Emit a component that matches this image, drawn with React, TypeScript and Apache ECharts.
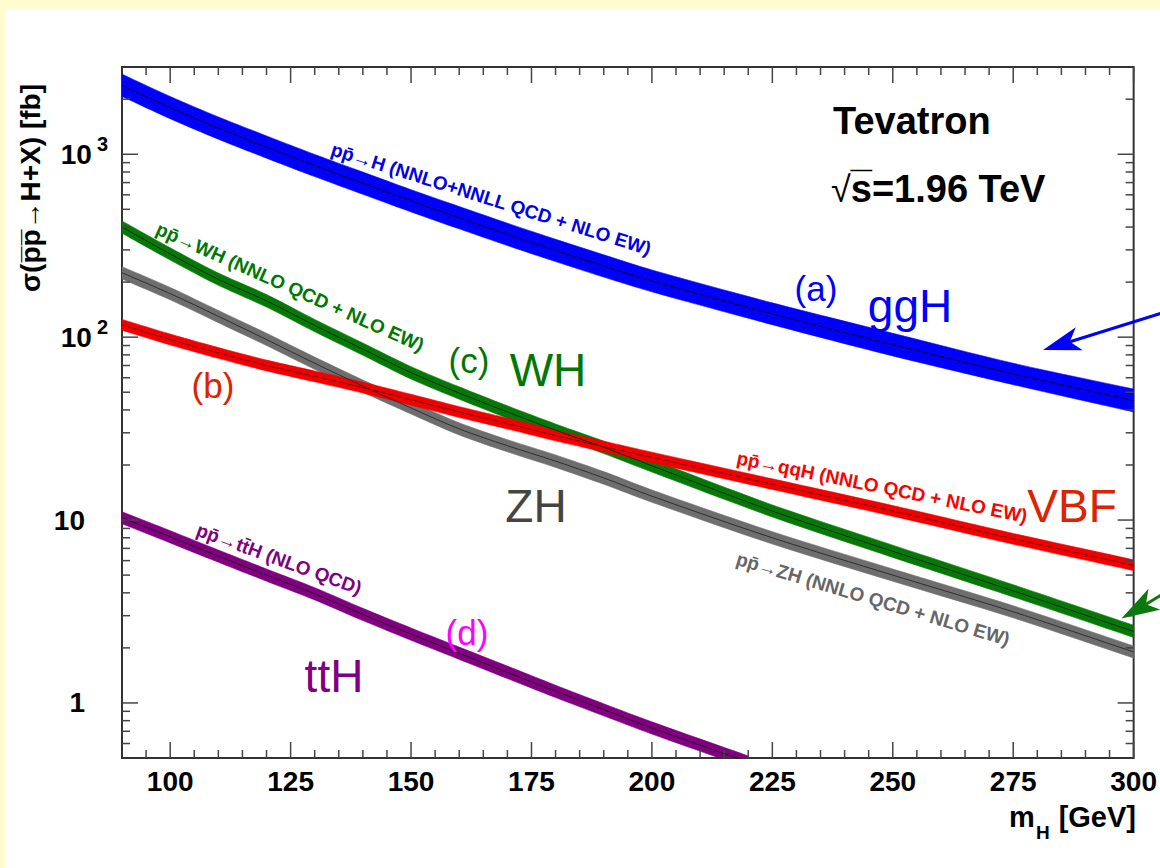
import React, { useEffect, useRef } from "react";
import * as echarts from "echarts";

// ---- data (fb) ----
const masses = [90, 100, 110, 120, 130, 140, 150, 160, 170, 180, 190, 200, 225, 250, 275, 300];

const ggH = [2380, 1800, 1390, 1095, 868, 695, 557, 450, 365, 298, 245, 203, 134, 91, 63, 45];
const ggHLow = [2070, 1565, 1209, 952, 755, 604, 484, 391, 317, 259, 213, 177, 117, 79, 55, 39];
const ggHHigh = [2740, 2070, 1600, 1260, 998, 799, 640, 518, 420, 343, 282, 233, 154, 105, 72, 52];

const wh = [400, 285, 207, 158, 116, 86, 64, 49.5, 39, 31, 25, 19.8, 11.2, 6.75, 4.1, 2.46];
const whLow = [370, 264, 192, 146, 107, 79.6, 59, 45.8, 36.1, 28.7, 23.1, 18.3, 10.4, 6.25, 3.8, 2.28];
const whHigh = [432, 308, 224, 171, 125, 92.9, 69, 53.5, 42.1, 33.5, 27, 21.4, 12.1, 7.29, 4.43, 2.66];

const zh = [225, 173, 130, 97, 72, 54, 41, 31.5, 25.5, 21, 17, 13.5, 8.0, 5.0, 3.15, 1.9];
const zhLow = [208, 160, 120, 90, 66.7, 50, 38, 29.2, 23.6, 19.4, 15.7, 12.5, 7.4, 4.63, 2.92, 1.76];
const zhHigh = [243, 187, 140, 105, 77.8, 58.3, 44.3, 34, 27.5, 22.7, 18.4, 14.6, 8.64, 5.4, 3.4, 2.05];

const vbf = [117, 97, 82, 70, 61, 53, 45.5, 39, 33.7, 29, 25.2, 22, 15.7, 11.2, 7.9, 5.66];
const vbfLow = [109, 90.7, 76.6, 65.4, 57, 49.5, 42.5, 36.4, 31.5, 27.1, 23.6, 20.6, 14.7, 10.5, 7.38, 5.29];
const vbfHigh = [125, 104, 87.7, 74.9, 65.3, 56.7, 48.7, 41.7, 36.1, 31, 27, 23.5, 16.8, 12, 8.45, 6.06];

const tthMasses = [90, 100, 110, 120, 130, 140, 150, 160, 170, 180, 190, 200, 220];
const tth = [10.3, 8.1, 6.35, 5.0, 3.95, 3.05, 2.38, 1.87, 1.47, 1.16, 0.92, 0.73, 0.475];
const tthLow = [9.54, 7.5, 5.88, 4.63, 3.66, 2.82, 2.2, 1.73, 1.36, 1.07, 0.85, 0.676, 0.44];
const tthHigh = [11.1, 8.75, 6.86, 5.4, 4.27, 3.29, 2.57, 2.02, 1.59, 1.25, 0.99, 0.788, 0.513];

// ---- axes / ticks ----
const xTickLabels = [100, 125, 150, 175, 200, 225, 250, 275, 300];
const xMinorTicks = [95, 105, 110, 115, 120, 130, 135, 140, 145, 155, 160, 165, 170, 180, 185, 190, 195, 205, 210, 215, 220, 230, 235, 240, 245, 255, 260, 265, 270, 280, 285, 290, 295];
const yTickLabels = [1, 10, 100, 1000];
const yMinorTicks = [0.6, 0.7, 0.8, 0.9, 2, 3, 4, 5, 6, 7, 8, 9, 20, 30, 40, 50, 60, 70, 80, 90, 200, 300, 400, 500, 600, 700, 800, 900, 2000];

const FONT = '"Liberation Sans", Arial, Helvetica, sans-serif';
const SMOOTH = 0.3;

function band(name: string, xs: number[], lo: number[], hi: number[], fill: string) {
  return {
    name,
    type: "custom",
    coordinateSystem: "cartesian2d",
    clip: true,
    silent: true,
    z: 2,
    data: xs.map((m, i) => [m, lo[i], hi[i]]),
    encode: { x: 0, y: 1 },
    renderItem: (params: any, api: any) => {
      if (params.dataIndex !== 0) return null;
      const top = xs.map((m, i) => api.coord([m, hi[i]]));
      const bottom = xs.map((m, i) => api.coord([m, lo[i]])).reverse();
      // repeat the end vertices so the smoothed outline keeps straight, un-bulged ends
      const pts = [top[0], ...top, top[top.length - 1], bottom[0], ...bottom, bottom[bottom.length - 1]];
      return {
        type: "polygon",
        shape: { points: pts, smooth: SMOOTH },
        style: { fill, stroke: fill, lineWidth: 0.6 },
      };
    },
  };
}

function centre(name: string, xs: number[], ys: number[], color: string) {
  return {
    name,
    type: "line",
    data: xs.map((m, i) => [m, ys[i]]),
    symbol: "none",
    showSymbol: false,
    smooth: SMOOTH,
    clip: true,
    silent: true,
    z: 3,
    lineStyle: { color, width: 1 },
  };
}

function label(text: string, x: number, y: number, size: number, fill: string, extra: any = {}) {
  return {
    type: "text",
    x,
    y,
    z: 50,
    rotation: extra.rotation || 0,
    style: {
      text,
      fill,
      fontSize: size,
      fontFamily: FONT,
      fontWeight: extra.weight || "normal",
      align: extra.align || "center",
      verticalAlign: "middle",
    },
  };
}

const deg = (d: number) => (d * Math.PI) / 180;

export default function App() {
  const ref = useRef<HTMLDivElement>(null);

  useEffect(() => {
    if (!ref.current) return;
    const chart = echarts.init(ref.current, undefined, { renderer: "svg" });

    const xTickData = [...xTickLabels.map((v) => [v, 1, 1]), ...xMinorTicks.map((v) => [v, 1, 0])];
    const yTickData = [...yTickLabels.map((v) => [90, v, 1]), ...yMinorTicks.map((v) => [90, v, 0])];
    const tickStyle = { stroke: "#444", lineWidth: 1.5 };

    const option: any = {
      animation: false,
      backgroundColor: "#FFFCCF",
      grid: {
        left: 122,
        top: 67,
        width: 1016,
        height: 691,
        show: true,
        borderColor: "#333",
        borderWidth: 2,
        backgroundColor: "transparent",
        containLabel: false,
      },
      xAxis: {
        type: "value",
        min: 90,
        max: 300,
        axisLine: { show: false },
        axisTick: { show: false },
        splitLine: { show: false },
        axisLabel: {
          customValues: xTickLabels,
          margin: 9,
          fontSize: 28,
          fontWeight: "bold",
          fontFamily: FONT,
          color: "#000",
        },
      },
      yAxis: {
        type: "log",
        logBase: 10,
        min: 0.5,
        max: 3000,
        axisLine: { show: false },
        axisTick: { show: false },
        splitLine: { show: false },
        minorTick: { show: false },
        axisLabel: {
          customValues: yTickLabels,
          margin: 14,
          color: "#000",
          formatter: (v: number) => {
            const r = Math.round(v);
            if (r === 1000) return "{n|10}{s|3}";
            if (r === 100) return "{n|10}{s|2}";
            if (r === 10) return "{n|10}{g| }";
            return "{n|1}{g| }";
          },
          rich: {
            n: { fontSize: 28, fontWeight: "bold", fontFamily: FONT, color: "#000", padding: [6, 0, 6, 0] },
            s: { fontSize: 20, fontWeight: "bold", fontFamily: FONT, color: "#000", verticalAlign: "top", padding: [0, 0, 0, 5] },
            g: { width: 23, fontSize: 20 },
          },
        },
      },
      series: [
        band("ggH band", masses, ggHLow, ggHHigh, "#0000ff"),
        centre("ggH", masses, ggH, "#000033"),
        band("WH band", masses, whLow, whHigh, "#077807"),
        centre("WH", masses, wh, "#003300"),
        band("ZH band", masses, zhLow, zhHigh, "#6e6e6e"),
        centre("ZH", masses, zh, "#2e2e2e"),
        band("VBF band", masses, vbfLow, vbfHigh, "#f20000"),
        centre("VBF", masses, vbf, "#7a0000"),
        band("ttH band", tthMasses, tthLow, tthHigh, "#800080"),
        centre("ttH", tthMasses, tth, "#300030"),
        {
          name: "x ticks",
          type: "custom",
          coordinateSystem: "cartesian2d",
          silent: true,
          z: 10,
          data: xTickData,
          encode: { x: 0, y: 1 },
          renderItem: (params: any, api: any) => {
            const cs = params.coordSys;
            const x = api.coord([api.value(0), 1])[0];
            const len = api.value(2) ? 16 : 8;
            const b = cs.y + cs.height;
            return {
              type: "group",
              children: [
                { type: "line", shape: { x1: x, y1: b, x2: x, y2: b - len }, style: tickStyle },
                { type: "line", shape: { x1: x, y1: cs.y, x2: x, y2: cs.y + len }, style: tickStyle },
              ],
            };
          },
        },
        {
          name: "y ticks",
          type: "custom",
          coordinateSystem: "cartesian2d",
          silent: true,
          z: 10,
          data: yTickData,
          encode: { x: 0, y: 1 },
          renderItem: (params: any, api: any) => {
            const cs = params.coordSys;
            const y = api.coord([90, api.value(1)])[1];
            const len = api.value(2) ? 16 : 8;
            const r = cs.x + cs.width;
            return {
              type: "group",
              children: [
                { type: "line", shape: { x1: cs.x, y1: y, x2: cs.x + len, y2: y }, style: tickStyle },
                { type: "line", shape: { x1: r, y1: y, x2: r - len, y2: y }, style: tickStyle },
              ],
            };
          },
        },
      ],
      graphic: [
        { type: "rect", z: -100, shape: { x: 6, y: 9, width: 1160, height: 870 }, style: { fill: "#ffffff" } },
        // axis titles
        label("σ(p̅p̅→H+X) [fb]", 30, 188, 28, "#000", { rotation: Math.PI / 2, weight: "bold" }),
        {
          type: "text",
          x: 1136,
          y: 822,
          z: 50,
          style: {
            text: "{a|m}{s|H}{a| [GeV]}",
            align: "right",
            verticalAlign: "middle",
            rich: {
              a: { fontSize: 29, fontWeight: "bold", fontFamily: FONT, fill: "#000", padding: [0, 0, 10, 0] },
              s: { fontSize: 19, fontWeight: "bold", fontFamily: FONT, fill: "#000", verticalAlign: "bottom", padding: [0, 1, 0, 1] },
            },
          },
        },
        // header
        label("Tevatron", 833, 121, 38, "#000", { align: "left", weight: "bold" }),
        {
          type: "text",
          x: 831,
          y: 189,
          z: 50,
          style: {
            text: "{r|√}{b|s̅=1.96 TeV}",
            align: "left",
            verticalAlign: "middle",
            rich: {
              r: { fontSize: 36, fontFamily: FONT, fill: "#000" },
              b: { fontSize: 38, fontWeight: "bold", fontFamily: FONT, fill: "#000" },
            },
          },
        },
        // process labels along the curves
        label("pp̄→H (NNLO+NNLL QCD + NLO EW)", 491, 199, 19, "#0000ee", { rotation: -deg(17.5), weight: "bold" }),
        label("pp̄→WH (NNLO QCD + NLO EW)", 290, 287, 19, "#007700", { rotation: -deg(24), weight: "bold" }),
        label("pp̄→qqH (NNLO QCD + NLO EW)", 882, 487, 19, "#ff0000", { rotation: -deg(11.5), weight: "bold" }),
        label("pp̄→ZH (NNLO QCD + NLO EW)", 873, 599, 19, "#666666", { rotation: -deg(16.7), weight: "bold" }),
        label("pp̄→tt̄H (NLO QCD)", 279, 559, 19, "#800080", { rotation: -deg(20), weight: "bold" }),
        // big annotations
        label("(a)", 816, 288, 35, "#0000ff"),
        label("ggH", 910, 306, 46, "#0000ff"),
        label("(b)", 213, 385, 35, "#dd2200"),
        label("(c)", 469, 360, 35, "#007700"),
        label("WH", 548, 370, 46, "#007700"),
        label("ZH", 536, 506, 46, "#444444"),
        label("VBF", 1072, 506, 46, "#dd2200"),
        label("(d)", 467, 632, 35, "#ff00ff"),
        label("ttH", 334, 676, 46, "#800080"),
        // arrows
        { type: "line", z: 60, shape: { x1: 1165, y1: 312, x2: 1070, y2: 341.8 }, style: { stroke: "#0000ff", lineWidth: 3 } },
        {
          type: "polygon",
          z: 60,
          shape: { points: [[1043, 350], [1075.8, 327.3], [1069.8, 341.8], [1082.8, 350.3]] },
          style: { fill: "#0000ff" },
        },
        { type: "line", z: 60, shape: { x1: 1178, y1: 585, x2: 1146, y2: 604.2 }, style: { stroke: "#0a780a", lineWidth: 3 } },
        {
          type: "polygon",
          z: 60,
          shape: { points: [[1121.5, 618.5], [1148.5, 588.8], [1145.9, 604.2], [1160.5, 609.6]] },
          style: { fill: "#0a780a" },
        },
      ],
    };

    chart.setOption(option);
    return () => chart.dispose();
  }, []);

  return (
    <div style={{ position: "fixed", left: 0, top: 0, width: 1160, height: 868 }}>
      <div ref={ref} style={{ width: 1160, height: 868 }} />
    </div>
  );
}
